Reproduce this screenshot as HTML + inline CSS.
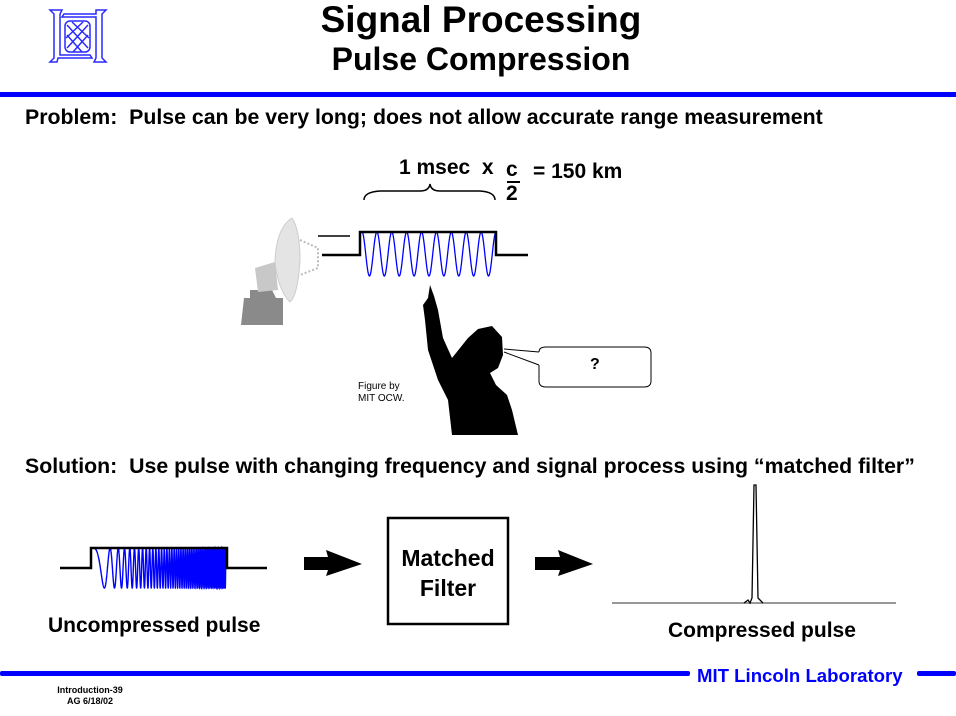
<!DOCTYPE html>
<html><head><meta charset="utf-8"><style>
html,body{margin:0;padding:0;background:#fff;}
body{width:956px;height:716px;position:relative;overflow:hidden;font-family:"Liberation Sans",Arial,sans-serif;}
.t{position:absolute;font-weight:bold;color:#000;white-space:nowrap;}
</style></head><body>
<svg width="956" height="716" style="position:absolute;left:0;top:0">
<g stroke="#2a2aff" stroke-width="1.5" fill="none">
<path d="M50,10 L62,10 L60,14 L60,55 L90,55 L92,58 L58,58 L57,62 L50,62 L54,58 L54,14 Z"/>
<path d="M106,10 L96,10 L96,14 L64,14 L62,17 L96,17 L96,58 L94,62 L106,62 L102,58 L102,14 Z"/>
<rect x="65" y="21" width="25" height="31" rx="5"/>
<path d="M67,25 L88,48 M67,35 L82,52 M72,22 L89,38 M88,25 L67,48 M88,35 L73,52 M83,22 L66,38"/>
</g>
<rect x="0" y="92" width="956" height="5" fill="#0000ff"/>
<rect x="0" y="671" width="690" height="5" rx="2" fill="#0000ff"/>
<rect x="917" y="671" width="39" height="5" rx="2" fill="#0000ff"/>
<path d="M364,200 Q364,192 380,191 L420,191 Q429,191 430,184 Q431,191 440,191 L480,191 Q495,192 495,200" stroke="#000" stroke-width="1.5" fill="none"/>
<line x1="507" y1="182" x2="520" y2="182" stroke="#000" stroke-width="2"/>
<polygon points="250,290 272,290 276,298 283,298 283,325 241,325 244,298 250,298" fill="#8a8a8a"/>
<polygon points="255,268 275,262 278,290 258,292" fill="#c8c8c8"/>
<path d="M292,218 Q300,230 300,260 Q298,295 290,302 Q278,290 275,262 Q276,228 292,218 Z" fill="#e4e4e4" stroke="#ccc"/>
<path d="M300,240 L318,248 L318,268 L300,275" stroke="#bbb" stroke-width="2" fill="none" stroke-dasharray="2,2"/>
<path id="s1" fill="none" stroke="#0000ff" stroke-width="1.3"/>
<path d="M322,255 L360,255 L360,232 L496,232 L496,255 L528,255" stroke="#000" stroke-width="2.5" fill="none"/>
<line x1="318" y1="236" x2="350" y2="236" stroke="#000" stroke-width="1.5"/>
<polygon fill="#000" points="430,285 434,296 438,310 443,338 452,358 460,348 468,338 478,329 492,326 502,337 503,355 498,368 490,373 496,385 507,395 512,410 518,435 452,435 448,400 438,380 428,350 425,320 423,305 428,298"/>
<path d="M504,349 L539,352 M504,352 L539,365" stroke="#000" stroke-width="1"/>
<path d="M539,352 Q539,347 546,347 L644,347 Q651,347 651,353 L651,381 Q651,387 644,387 L546,387 Q539,387 539,381 L539,365" stroke="#000" stroke-width="1" fill="#fff"/>
<path id="s2" fill="none" stroke="#0000ff" stroke-width="1.4"/>
<path d="M60,568 L91,568 L91,548 L227,548 L227,568 L267,568" stroke="#000" stroke-width="2.5" fill="none"/>
<polygon points="304,557 328,557 326,550 362,564 326,576 328,570 304,570" fill="#000"/>
<polygon points="535,557 560,557 558,550 593,564 558,576 560,570 535,570" fill="#000"/>
<rect x="388" y="518" width="120" height="106" stroke="#000" stroke-width="2.5" fill="#fff"/>
<line x1="612" y1="603" x2="896" y2="603" stroke="#777" stroke-width="1.5"/>
<path d="M744,603 L748,600 L750,603 L752,598 L754,485 L756,485 L758,598 L760,600 L763,603" stroke="#000" stroke-width="1.3" fill="none"/>
</svg>
<script>
(function(){
var d="";for(var i=0;i<=400;i++){var t=i/400;var x=362+t*134;var y=254-22*Math.cos(2*Math.PI*9*t);d+=(i?"L":"M")+x.toFixed(2)+","+y.toFixed(2);}
document.getElementById("s1").setAttribute("d",d);
var e="";for(var i=0;i<=8000;i++){var t=i/8000;var x=93+t*133;var ph=2*Math.PI*(2*t+45*t*t);var y=568-20*Math.cos(ph);e+=(i?"L":"M")+x.toFixed(2)+","+y.toFixed(2);}
document.getElementById("s2").setAttribute("d",e);
})();
</script>
<div class="t" style="left:0;width:962px;text-align:center;top:-1px;font-size:37px;line-height:42px;">Signal Processing</div>
<div class="t" style="left:0;width:962px;text-align:center;top:41px;font-size:32px;line-height:36px;">Pulse Compression</div>
<div class="t" style="left:25px;top:105px;font-size:21.3px;">Problem:&nbsp; Pulse can be very long; does not allow accurate range measurement</div>
<div class="t" style="left:399px;top:156px;font-size:21px;">1 msec&nbsp; x</div>
<div class="t" style="left:506px;top:158px;font-size:21px;">c</div>
<div class="t" style="left:506px;top:182px;font-size:21px;">2</div>
<div class="t" style="left:533px;top:160px;font-size:21px;">= 150 km</div>
<div class="t" style="left:590px;top:356px;font-size:16px;">?</div>
<div style="position:absolute;left:358px;top:381px;font-size:10px;line-height:12px;">Figure by<br>MIT OCW.</div>
<div class="t" style="left:25px;top:454px;font-size:21.3px;">Solution:&nbsp; Use pulse with changing frequency and signal process using “matched filter”</div>
<div class="t" style="left:388px;top:543px;width:120px;text-align:center;font-size:23px;line-height:30px;">Matched<br>Filter</div>
<div class="t" style="left:48px;top:614px;font-size:21px;">Uncompressed pulse</div>
<div class="t" style="left:668px;top:619px;font-size:21px;">Compressed pulse</div>
<div class="t" style="left:697px;top:665px;font-size:18.6px;color:#0000ff;">MIT Lincoln Laboratory</div>
<div class="t" style="left:40px;top:685px;width:100px;text-align:center;font-size:9px;line-height:11px;">Introduction-39<br>AG 6/18/02</div>
</body></html>
